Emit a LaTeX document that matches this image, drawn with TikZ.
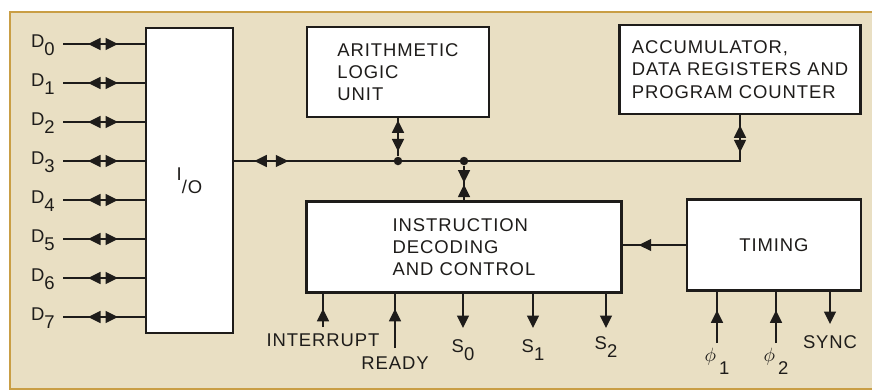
\documentclass[tikz,border=0pt]{standalone}
\usepackage{fontspec}
\setmainfont{Liberation Sans}[LetterSpace=5]
\usepackage{xcolor}
\usetikzlibrary{arrows.meta,decorations.markings,positioning,calc}
\definecolor{parchment}{HTML}{E9DFC3}
\definecolor{ochre}{HTML}{C99E45}
\definecolor{inkblack}{HTML}{1E1C1A}
\newcommand{\lowr}[1]{\raisebox{-0.85ex}{#1}}

\tikzset{
  >={Triangle[length=2.5mm,width=2.4mm]},
  blk/.style={draw=inkblack, line width=1.5pt, fill=white, align=left, inner sep=0pt,
              text=inkblack, font=\fontsize{10.5pt}{12.6pt}\selectfont},
  wire/.style={draw=inkblack, color=inkblack, line width=0.8pt},
  dot/.style={circle, fill=inkblack, inner sep=0pt, minimum size=1.7mm},
  lbl/.style={inner sep=0pt, text=inkblack, font=\fontsize{10.5pt}{12.6pt}\selectfont},
  fwd/.style={postaction={decorate, decoration={markings, mark=at position #1 with {\arrow{>}}}}},
  bwd/.style={postaction={decorate, decoration={markings, mark=at position #1 with {\arrowreversed{>}}}}},
}

\begin{document}
\begin{tikzpicture}[x=0.2mm, y=-0.2mm]
  \useasboundingbox (0,0) rectangle (872,391);
  \fill[parchment] (10,12) rectangle (890,389);
  \draw[ochre, line width=1.3pt] (890,12) -- (10,12) -- (10,389) -- (890,389);

  \node[blk, minimum width=17.4mm, minimum height=61mm] (io) at (189.5,180.5) {};
  \node[lbl] (iol) at (io.center) {I\raisebox{-1.3ex}{/O}};
  \node[blk, minimum width=36.4mm, minimum height=18mm] (alu) at (398,72)
    {ARITHMETIC\\LOGIC\\UNIT};
  \node[blk, minimum width=48.2mm, minimum height=17.8mm] (acc) at (740,69.5)
    {ACCUMULATOR,\\DATA REGISTERS AND\\PROGRAM COUNTER};
  \node[blk, minimum width=63mm, minimum height=18.2mm] (ins) at (464,247)
    {INSTRUCTION\\DECODING\\AND CONTROL};
  \node[blk, minimum width=34.8mm, minimum height=18.2mm] (tim) at (774,245) {TIMING};

  \coordinate (d0) at (63,44);
  \coordinate (d1) at (63,83);
  \coordinate (d2) at (63,122);
  \coordinate (d3) at (63,161);
  \coordinate (d4) at (63,200);
  \coordinate (d5) at (63,239);
  \coordinate (d6) at (63,278);
  \coordinate (d7) at (63,317);
  \node[lbl, anchor=base east] (l0) at ($(d0)+(-8,3)$) {D\lowr{0}};
  \node[lbl, anchor=base east] (l1) at ($(d1)+(-8,3)$) {D\lowr{1}};
  \node[lbl, anchor=base east] (l2) at ($(d2)+(-8,3)$) {D\lowr{2}};
  \node[lbl, anchor=base east] (l3) at ($(d3)+(-8,3)$) {D\lowr{3}};
  \node[lbl, anchor=base east] (l4) at ($(d4)+(-8,3)$) {D\lowr{4}};
  \node[lbl, anchor=base east] (l5) at ($(d5)+(-8,3)$) {D\lowr{5}};
  \node[lbl, anchor=base east] (l6) at ($(d6)+(-8,3)$) {D\lowr{6}};
  \node[lbl, anchor=base east] (l7) at ($(d7)+(-8,3)$) {D\lowr{7}};
  \draw[wire, bwd=5mm, fwd=11mm] (d0) -- (io.west |- d0);
  \draw[wire, bwd=5mm, fwd=11mm] (d1) -- (io.west |- d1);
  \draw[wire, bwd=5mm, fwd=11mm] (d2) -- (io.west |- d2);
  \draw[wire, bwd=5mm, fwd=11mm] (d3) -- (io.west |- d3);
  \draw[wire, bwd=5mm, fwd=11mm] (d4) -- (io.west |- d4);
  \draw[wire, bwd=5mm, fwd=11mm] (d5) -- (io.west |- d5);
  \draw[wire, bwd=5mm, fwd=11mm] (d6) -- (io.west |- d6);
  \draw[wire, bwd=5mm, fwd=11mm] (d7) -- (io.west |- d7);

  \draw[wire, bwd=4mm, fwd=10.8mm, fwd=-2mm, bwd=-7.4mm]
    (io.east |- d3) -- (acc.south |- d3) -- (acc.south);
  \node[dot] (j1) at (alu.south |- d3) {};
  \node[dot] (j2) at (ins.north |- d3) {};
  \draw[wire, bwd=1mm, fwd=-0.4mm] (j1) -- (alu.south);
  \draw[wire, fwd=3.4mm, bwd=3.8mm] (j2) -- (ins.north);
  \draw[wire, fwd=9.4mm] (tim.west) -- (ins.east |- tim.west);

  \coordinate (in) at (323,327);
  \coordinate (rd) at (395,348);
  \coordinate (s0) at (463,328);
  \coordinate (s1) at (533,328);
  \coordinate (s2) at (606,328);
  \coordinate (p1) at (717,343);
  \coordinate (p2) at (776,343);
  \coordinate (sy) at (830,324);
  \draw[wire, fwd=-3mm] (in) -- (in |- ins.south);
  \draw[wire, fwd=-3mm] (rd) -- (rd |- ins.south);
  \draw[wire, ->] (s0 |- ins.south) -- (s0);
  \draw[wire, ->] (s1 |- ins.south) -- (s1);
  \draw[wire, ->] (s2 |- ins.south) -- (s2);
  \draw[wire, fwd=-3.7mm] (p1) -- (p1 |- tim.south);
  \draw[wire, fwd=-3.7mm] (p2) -- (p2 |- tim.south);
  \draw[wire, ->] (sy |- tim.south) -- (sy);

  \node[lbl, below=1.2mm of in] (lin) {INTERRUPT};
  \node[lbl, below=1.6mm of rd] (lrd) {READY};
  \node[lbl, below=2.2mm of s0] (ls0) {S\lowr{0}};
  \node[lbl, below=2.2mm of s1] (ls1) {S\lowr{1}};
  \node[lbl, below=1.6mm of s2] (ls2) {S\lowr{2}};
  \node[lbl, below=1mm of p1] (lp1) {$\phi$\,\raisebox{-1.3ex}{1}};
  \node[lbl, below=1mm of p2] (lp2) {$\phi$\,\raisebox{-1.3ex}{2}};
  \node[lbl, below=2.2mm of sy] (lsy) {SYNC};
\end{tikzpicture}
\end{document}
